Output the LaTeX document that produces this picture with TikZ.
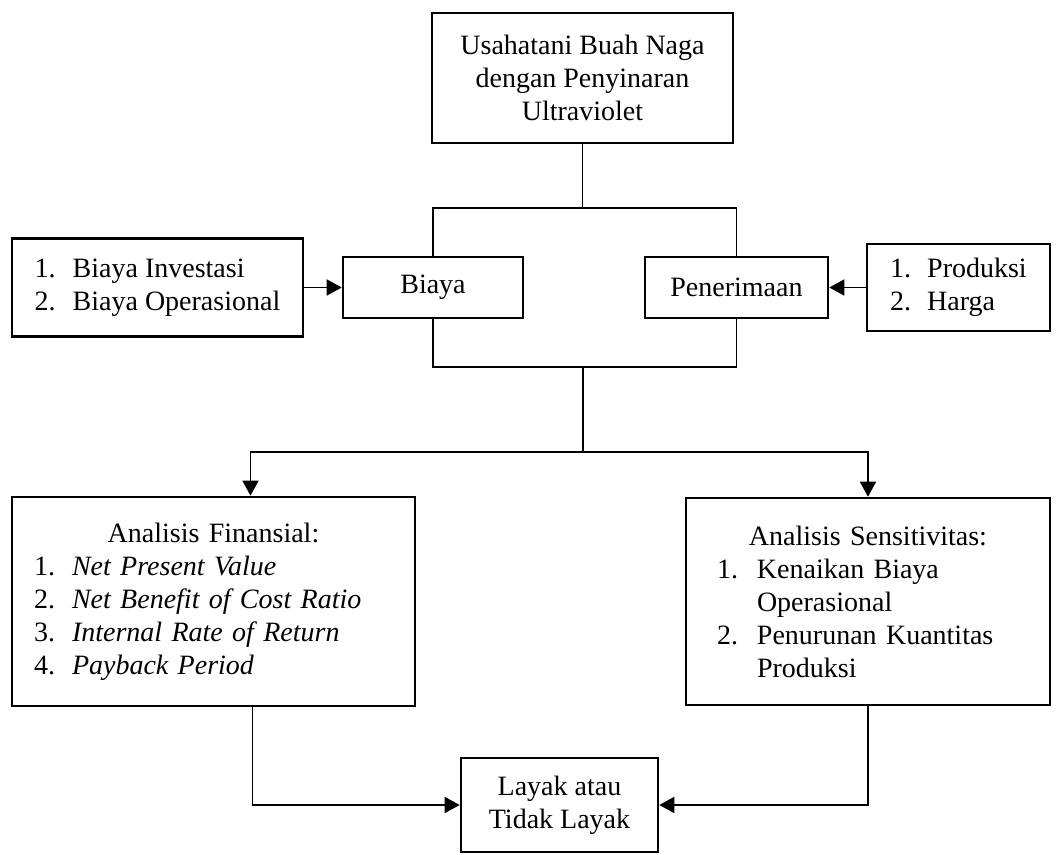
\documentclass[tikz,border=0pt]{standalone}
\usepackage{fontspec}
\setmainfont{Liberation Serif}
\usetikzlibrary{arrows.meta,positioning}

\newcommand{\nomor}[3][19pt]{\makebox[#1][l]{#2}\mbox{#3}}

\begin{document}
\begin{tikzpicture}[
  x=0.5pt, y=-0.5pt,
  kBox/.style={rectangle, draw=black, line width=1.3pt,
    align=center, inner sep=0pt,
    font=\fontsize{14}{16.5}\selectfont},
  kList/.style={kBox, align=left},
  kline/.style={line width=0.85pt, color=black},
  karr/.style={kline, -{Triangle[length=7.5pt,width=8pt]}},
]
  \useasboundingbox (0,0) rectangle (1057,855);

  %% ── Boxes ───────────────────────────────────────────────────
  \node[kBox, minimum width=150.5pt, minimum height=65pt] (usaha) at (582.5,78) {%
    Usahatani Buah Naga\\dengan Penyinaran\\Ultraviolet};
  \node[kBox, minimum width=90pt, minimum height=30.5pt] (biaya) at (433,287.5) {Biaya};
  \node[kBox, minimum width=91.5pt, minimum height=30.5pt] (terima) at (736.5,287.5) {Penerimaan};
  \node[kList, minimum width=145.5pt, minimum height=49pt] (kompBiaya) at (157.5,287.5) {%
    \nomor{1.}{Biaya Investasi}\\
    \nomor{2.}{Biaya Operasional}};
  \node[kList, minimum width=91.5pt, minimum height=43.5pt] (kompTerima) at (958.5,287.5) {%
    \nomor[18.5pt]{1.}{Produksi}\\
    \nomor[18.5pt]{2.}{Harga}};
  \node[kList, text width=179.5pt, inner xsep=11pt, minimum height=104.5pt] (finansial) at (213.5,601.5) {%
    \makebox[\linewidth]{Analisis Finansial:}\\
    \nomor{1.}{\textit{Net Present Value}}\\
    \nomor{2.}{\textit{Net Benefit of Cost Ratio}}\\
    \nomor{3.}{\textit{Internal Rate of Return}}\\
    \nomor{4.}{\textit{Payback Period}}};
  \node[kList, text width=160pt, inner xsep=11pt, minimum height=103.5pt] (sensitif) at (868,601.5) {%
    \makebox[\linewidth]{Analisis Sensitivitas:}\\
    \hspace*{4.5pt}\nomor[20pt]{1.}{Kenaikan Biaya}\\
    \hspace*{24.5pt}Operasional\\
    \hspace*{4.5pt}\nomor[20pt]{2.}{Penurunan Kuantitas}\\
    \hspace*{24.5pt}Produksi};
  \node[kBox, minimum width=98.5pt, minimum height=47pt] (layak) at (559.5,805) {%
    Layak atau\\Tidak Layak};

  %% ── Connectors ──────────────────────────────────────────────
  \coordinate (atas) at (582.5,208);
  \coordinate (tengah) at (583,367);
  \coordinate (bawah) at (583,452);

  \draw[kline] (usaha.south) -- (atas);
  \draw[kline] (biaya.north) |- (atas) -| (terima.north);
  \draw[kline] (biaya.south) |- (tengah) -| (terima.south);
  \draw[kline] (tengah) -- (bawah);

  \draw[karr] (kompBiaya.east) -- (biaya.west);
  \draw[karr] (kompTerima.west) -- (terima.east);
  \draw[karr] (bawah) -| ([xshift=18.5pt]finansial.north);
  \draw[karr] (bawah) -| (sensitif.north);
  \draw[karr] ([xshift=19.5pt]finansial.south) |- (layak.west);
  \draw[karr] (sensitif.south) |- (layak.east);

\end{tikzpicture}
\end{document}
